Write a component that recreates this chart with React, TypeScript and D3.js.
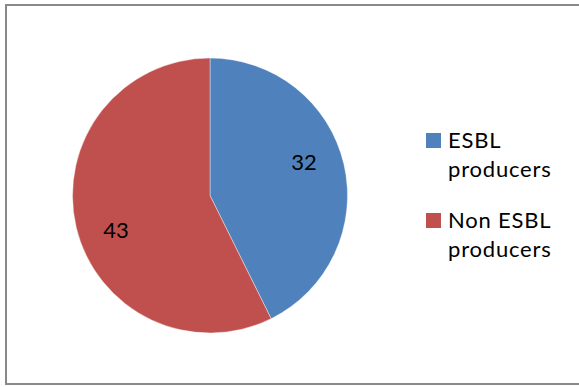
import React from "react";
import * as d3 from "d3";

const categories: string[][] = [["ESBL", "producers"], ["Non ESBL", "producers"]];
const values: number[] = [32, 43];
const colors: string[] = ["#4F81BD", "#C0504D"];

const W = 579;
const H = 387;
const FONT = "Lato, 'Open Sans', sans-serif";

export default function App() {
  const cx = 210;
  const cy = 195.5;
  const r = 137.5;
  const pie = d3.pie<number>().sort(null).value((d) => d);
  const arcs = pie(values);
  const arc = d3.arc<d3.PieArcDatum<number>>().innerRadius(0).outerRadius(r);
  const labelR = 100;
  const labelShift = -0.12;

  const legendX = 426;
  const legendY0 = 133;
  const legendStep = 80;
  const lineH = 29.5;

  return (
    <svg
      width={W}
      height={H}
      style={{ position: "absolute", left: 0, top: 0, background: "#fff" }}
      fontFamily={FONT}
    >
      <rect x={6} y={5} width={W + 10} height={379} fill="#fff" stroke="#898989" strokeWidth={2} />
      <g transform={`translate(${cx},${cy})`}>
        {arcs.map((a, i) => (
          <path key={i} d={arc(a) || ""} fill={colors[i]} stroke="#ffffff" strokeWidth={0.4} />
        ))}
        {arcs.map((a, i) => {
          const mid = (a.startAngle + a.endAngle) / 2 + labelShift;
          const x = Math.sin(mid) * labelR;
          const y = -Math.cos(mid) * labelR;
          return (
            <text key={i} x={x} y={y} textAnchor="middle" dominantBaseline="central" fontSize={22} fill="#000">
              {a.data}
            </text>
          );
        })}
      </g>
      {categories.map((lines, i) => {
        const y = legendY0 + i * legendStep;
        return (
          <g key={i}>
            <rect x={legendX} y={y} width={15} height={15} fill={colors[i]} />
            {lines.map((t, j) => (
              <text
                key={j}
                x={legendX + 22}
                y={y + 14.5 + j * lineH}
                fontSize={22}
                letterSpacing={0.8}
                fill="#000"
              >
                {t}
              </text>
            ))}
          </g>
        );
      })}
    </svg>
  );
}
